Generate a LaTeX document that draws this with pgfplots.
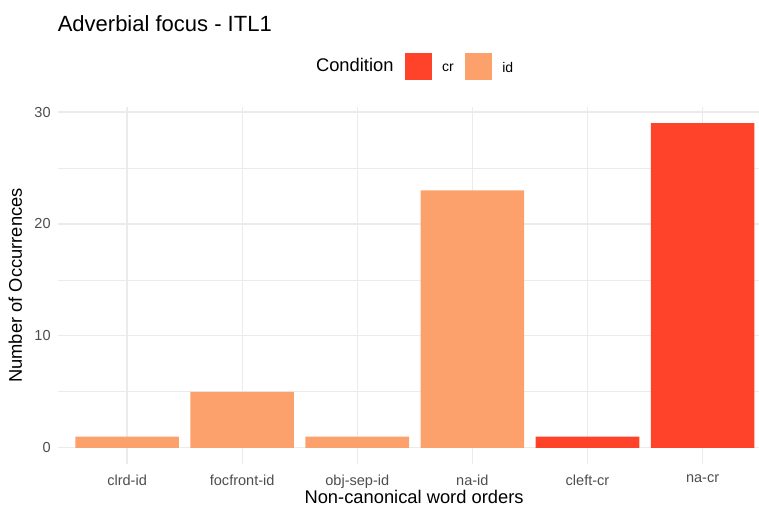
\documentclass[border=0pt]{standalone}
\usepackage{pgfplots}
\pgfplotsset{compat=1.18}
\usepackage{fontspec}
\setmainfont{Liberation Sans}
\definecolor{crc}{RGB}{254,67,42}
\definecolor{idc}{RGB}{252,161,108}
\definecolor{gridc}{RGB}{235,235,235}
\definecolor{tickc}{RGB}{77,77,77}
\begin{document}
\begin{tikzpicture}
\path[use as bounding box] (-43.5pt,-31.5pt) rectangle (525.75pt,348pt);
\begin{axis}[
    width=525.75pt, height=267.75pt, scale only axis,
    xmin=0.4, xmax=6.49, ymin=-1.45, ymax=30.45,
    axis line style={draw=none},
    major tick length=0pt, minor tick length=0pt,
    xtick={1,2,3,4,5,6},
    xticklabels={clrd-id,focfront-id,obj-sep-id,na-id,cleft-cr,na-cr},
    ytick={0,10,20,30},
    minor ytick={5,15,25},
    xmajorgrids=true, ymajorgrids=true, yminorgrids=true,
    major grid style={draw=gridc, line width=0.9pt},
    minor grid style={draw=gridc, line width=0.5pt},
    ticklabel style={font=\fontsize{10.9}{12}\selectfont, text=tickc},
    xticklabel style={yshift=-4.5pt},
    yticklabel style={xshift=-2pt},
    /pgf/number format/assume math mode=true,
    xlabel={Non-canonical word orders},
    ylabel={Number of Occurrences},
    label style={font=\fontsize{13.75}{16}\selectfont},
    xlabel style={at={(axis description cs:0.508,-0.092)}, anchor=center},
    ylabel style={at={(axis description cs:-0.061,0.5)}, anchor=center},
    title={Adverbial focus - ITL1},
    title style={at={(axis description cs:-0.007,1.188)}, anchor=base west, font=\fontsize{16.5}{19}\selectfont},
    legend style={at={(axis description cs:0.503,1.115)}, anchor=center, draw=none, fill=none,
        font=\fontsize{10.5}{12}\selectfont, legend columns=-1,
        /tikz/every odd column/.append style={column sep=6pt},
        /tikz/every even column/.append style={column sep=6.5pt}},
    clip=false,
]
\addplot[ybar, bar width=0.9, bar shift=0pt, fill=idc, draw=none, forget plot]
    coordinates {(1,1) (2,5) (3,1) (4,23)};
\addplot[ybar, bar width=0.9, bar shift=0pt, fill=crc, draw=none, forget plot]
    coordinates {(5,1) (6,29)};
\addlegendimage{empty legend}
\addlegendentry{\fontsize{13.75}{16}\selectfont Condition}
\addlegendimage{legend image code/.code={\fill[crc] (0pt,-9.75pt) rectangle (19.5pt,9.75pt);}}
\addlegendentry{\raisebox{-3.5pt}{cr}}
\addlegendimage{legend image code/.code={\fill[idc] (0pt,-9.75pt) rectangle (19.5pt,9.75pt);}}
\addlegendentry{\raisebox{-3.5pt}{id}}
\end{axis}
\end{tikzpicture}
\end{document}
